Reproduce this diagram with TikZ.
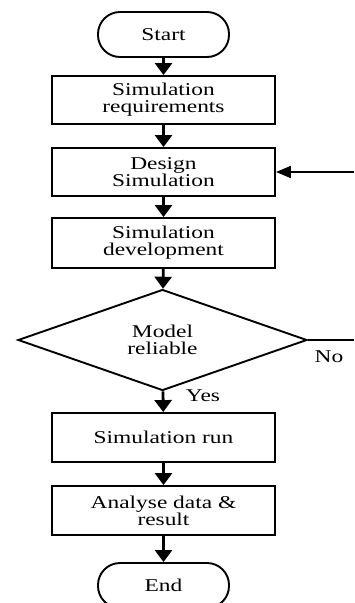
\documentclass[tikz,border=0pt]{standalone}
\usepackage{fontspec}
\setmainfont{Liberation Serif}[FakeStretch=1.3]
\usetikzlibrary{shapes.geometric,arrows.meta}
\begin{document}
\begin{tikzpicture}[x=1pt,y=-1pt,
  every node/.style={inner sep=0pt},
  txt/.style={font=\fontsize{18}{17}\selectfont, align=center},
  procbox/.style={txt, draw, line width=1.9pt, rectangle, minimum width=223pt, minimum height=48pt},
  termbox/.style={txt, draw, line width=1.9pt, rectangle, rounded corners=22pt, minimum width=131pt, minimum height=45pt},
  decbox/.style={txt, draw, line width=1.9pt, diamond, minimum width=289pt, minimum height=101pt},
  flow/.style={line width=2.8pt, -{Triangle[length=12pt,width=17pt]}},
  plain/.style={line width=1.9pt}]
\useasboundingbox (0,0) rectangle (354,603);
\node[termbox] (start) at (163.5,34.5) {Start};
\node[procbox] (req) at (163.5,100) {Simulation\\requirements};
\node[procbox] (des) at (163.5,172) {Design\\Simulation};
\node[procbox, minimum height=50pt] (dev) at (163.5,243) {Simulation\\development};
\node[decbox] (dec) at (162.5,340) {Model\\reliable};
\node[procbox, minimum height=49pt] (run) at (163.5,437.5) {Simulation run};
\node[procbox, minimum height=49pt] (ana) at (163.5,510.5) {Analyse data \&\\result};
\node[termbox] (end) at (163.5,585.5) {End};
\coordinate (noA) at (354,340);
\coordinate (noB) at (354,172);
\node[txt] (no) at (329,357) {No};
\node[txt] (yes) at (203,396) {Yes};
\draw[flow] (start) -- (req);
\draw[flow] (req) -- (des);
\draw[flow] (des) -- (dev);
\draw[flow] (dev) -- (dec);
\draw[flow] (dec) -- (run);
\draw[flow] (run) -- (ana);
\draw[flow] (ana) -- (end);
\draw[plain] (dec.east) -- (noA);
\draw[plain, -{Triangle[length=15pt,width=12pt]}] (noB) -- (des.east);
\end{tikzpicture}
\end{document}
